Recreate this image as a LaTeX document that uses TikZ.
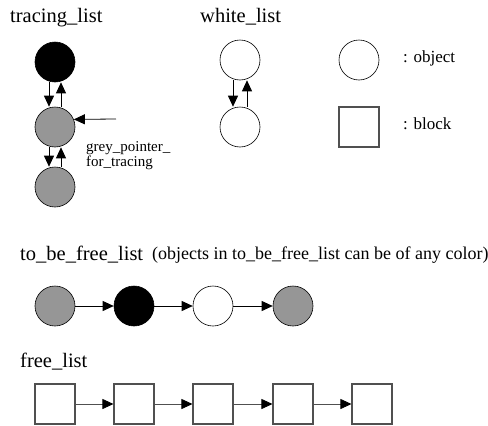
\documentclass[tikz,border=0pt]{standalone}
\usepackage{fontspec}
\setmainfont{Liberation Serif}
\newfontfamily\labelfont{Liberation Serif}
\usetikzlibrary{arrows.meta}
\definecolor{objgrey}{RGB}{150,150,150}
\definecolor{blkline}{RGB}{80,80,80}
\tikzset{
  obj/.style={circle, draw=black, line width=0.6pt, minimum size=40pt, inner sep=0pt},
  blackobj/.style={obj, fill=black},
  greyobj/.style={obj, fill=objgrey},
  whiteobj/.style={obj, fill=white},
  blk/.style={rectangle, draw=blkline, line width=1.1pt, minimum size=40pt, inner sep=0pt},
  link/.style={line width=0.8pt, -{Triangle[length=11pt,width=10pt,color=black,fill=black]}},
  blklink/.style={link, draw=blkline},
  title/.style={anchor=west, inner sep=0pt, font=\labelfont\fontsize{20.5}{23}\selectfont},
  note/.style={anchor=west, inner sep=0pt, font=\labelfont\fontsize{17}{19}\selectfont},
  comment/.style={anchor=west, inner sep=0pt, font=\labelfont\fontsize{18}{20}\selectfont},
  small/.style={anchor=west, inner sep=0pt, font=\labelfont\fontsize{15}{15}\selectfont, align=left},
}
\begin{document}
\begin{tikzpicture}[x=1pt, y=-1pt]
\useasboundingbox (0,0) rectangle (488,426);

% tracing list
\node[title] (ttl) at (10,18) {tracing\_list};
\node[blackobj] (t1) at (55,62) {};
\node[greyobj]  (t2) at (55,127) {};
\node[greyobj]  (t3) at (55,187) {};
\draw[link] ([xshift=-6pt]t1.south) -- ([xshift=-6pt]t2.north);
\draw[link] ([xshift=6pt]t2.north) -- ([xshift=6pt]t1.south);
\draw[link] ([xshift=-6pt]t2.south) -- ([xshift=-6pt]t3.north);
\draw[link] ([xshift=6pt]t3.north) -- ([xshift=6pt]t2.south);
\coordinate (gp) at (116,119);
\draw[link] (gp) -- (t2.22);
\node[small] (gpl) at (86,155.5) {grey\_pointer\_\\for\_tracing};

% white list
\node[title] (wtl) at (200,17) {white\_list};
\node[whiteobj] (w1) at (240,60) {};
\node[whiteobj] (w2) at (240,127) {};
\draw[link] ([xshift=-7pt]w1.south) -- ([xshift=-7pt]w2.north);
\draw[link] ([xshift=7pt]w2.north) -- ([xshift=7pt]w1.south);

% legend
\node[whiteobj] (lo) at (359,60) {};
\node[note] (lol) at (403,58) {: object};
\node[blk] (lb) at (359,127) {};
\node[note] (lbl) at (403,124) {: block};

% to be free list
\node[title] (fl) at (20,255) {to\_be\_free\_list};
\node[comment] (flc) at (152,255) {(objects in to\_be\_free\_list can be of any color)};
\node[greyobj]  (f1) at (55,306) {};
\node[blackobj] (f2) at (134,306) {};
\node[whiteobj] (f3) at (213,306) {};
\node[greyobj]  (f4) at (293,306) {};
\draw[link] (f1) -- (f2);
\draw[link] (f2) -- (f3);
\draw[link] (f3) -- (f4);

% free list
\node[title] (frl) at (20,362) {free\_list};
\foreach \i/\x in {1/55,2/134,3/213,4/293,5/372}
  \node[blk] (b\i) at (\x,404) {};
\foreach \a/\b in {1/2,2/3,3/4,4/5}
  \draw[blklink] (b\a) -- (b\b);
\end{tikzpicture}
\end{document}
